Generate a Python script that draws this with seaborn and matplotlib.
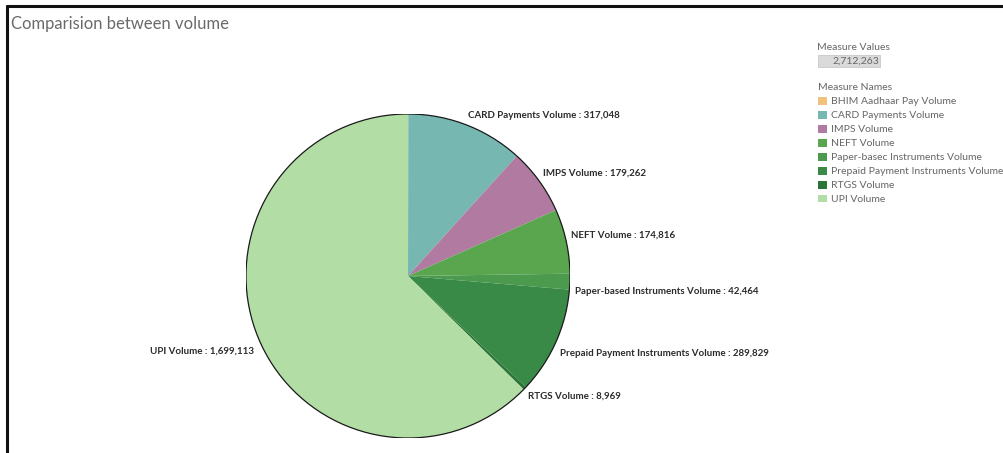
import matplotlib
matplotlib.use("Agg")
import matplotlib.pyplot as plt
from matplotlib.patches import Circle, Rectangle
from matplotlib.lines import Line2D
import numpy as np
import seaborn as sns

sns.set_theme(style="white")
plt.rcParams["font.family"] = ["Lato", "DejaVu Sans"]

# Payment-mode volumes (clockwise from 12 o'clock)
names = [
    "BHIM Aadhaar Pay Volume",
    "CARD Payments Volume",
    "IMPS Volume",
    "NEFT Volume",
    "Paper-based Instruments Volume",
    "Prepaid Payment Instruments Volume",
    "RTGS Volume",
    "UPI Volume",
]
legend_names = [
    "BHIM Aadhaar Pay Volume",
    "CARD Payments Volume",
    "IMPS Volume",
    "NEFT Volume",
    "Paper-basec Instruments Volume",
    "Prepaid Payment Instruments Volume",
    "RTGS Volume",
    "UPI Volume",
]
volumes = [762, 317048, 179262, 174816, 42464, 289829, 8969, 1699113]
labelled = [False, True, True, True, True, True, True, True]
colors = sns.color_palette([
    "#f1c27d", "#76b7b2", "#b07aa1", "#5aa64f",
    "#4c9a4e", "#3a8a47", "#2b7438", "#b2dea5",
])
# vertical nudges (px) that keep the rim labels clear of each other
label_dy = [0, -5, -5, -5, 10, 9, 4, 11]

W, H = 1004, 453
fig = plt.figure(figsize=(W / 100, H / 100), dpi=100)
fig.patch.set_facecolor("white")

# Pie axes: centre (408, 276) px, radius 162 px
cx, cy, r = 408, 276, 162
ax = fig.add_axes([(cx - r) / W, (H - cy - r) / H, 2 * r / W, 2 * r / H])
wedges, _ = ax.pie(
    volumes, colors=colors, startangle=90, counterclock=False,
    radius=1.0, wedgeprops=dict(linewidth=0),
)
ax.add_patch(Circle((0, 0), 1.0, fill=False, edgecolor="#1a1a1a", linewidth=0.9))
ax.set_xlim(-1, 1)
ax.set_ylim(-1, 1)
ax.set_aspect("equal")
ax.axis("off")

# Slice labels placed just outside the rim at each slice's mid-angle
total = sum(volumes)
cum = 0.0
for name, v, show, dy in zip(names, volumes, labelled, label_dy):
    mid = (cum + v / 2) / total * 360.0
    cum += v
    if not show:
        continue
    theta = np.deg2rad(90 - mid)
    rr = 1.03
    x, y = rr * np.cos(theta), rr * np.sin(theta)
    ha = "left" if x >= 0 else "right"
    ax.annotate(f"{name} : {v:,}", xy=(x, y), xytext=(0, -dy * 0.72),
                textcoords="offset points", ha=ha, va="center",
                fontsize=7.0, fontweight="bold", color="#2b2b2b",
                annotation_clip=False)

# Title
fig.text(11 / W, 1 - 24 / H, "Comparision between volume", fontsize=12,
         color="#6a6a6a", ha="left", va="center", fontweight="normal")

# Dashboard frame lines (left and top)
fig.add_artist(Line2D([6.5 / W, 6.5 / W], [0, 1 - 6 / H], color="#111111",
                      linewidth=2.2, transform=fig.transFigure))
fig.add_artist(Line2D([6.5 / W, 1], [1 - 6 / H, 1 - 6 / H], color="#111111",
                      linewidth=2.2, transform=fig.transFigure))

# Measure Values card
fig.text(817 / W, 1 - 48 / H, "Measure Values", fontsize=7.5, color="#666666",
         ha="left", va="center")
fig.add_artist(Rectangle((818 / W, 1 - 67 / H), 62 / W, 12 / H,
                         transform=fig.transFigure, facecolor="#dadada",
                         edgecolor="#c8c8c8", linewidth=0.6))
fig.text(879 / W, 1 - 61 / H, f"{total:,}", fontsize=7.5, color="#666666",
         ha="right", va="center")

# Measure Names legend
leg = fig.legend(
    wedges, legend_names, loc="upper left",
    bbox_to_anchor=(811 / W, 1 - 76 / H), frameon=False,
    title="Measure Names", alignment="left", fontsize=7.5,
    title_fontsize=7.5, handlelength=0.8, handleheight=0.8,
    handletextpad=0.4, labelspacing=0.42, borderpad=0.2,
)
for t in leg.get_texts():
    t.set_color("#666666")
leg.get_title().set_color("#666666")

fig.savefig("out.png", dpi=100, facecolor="white")
